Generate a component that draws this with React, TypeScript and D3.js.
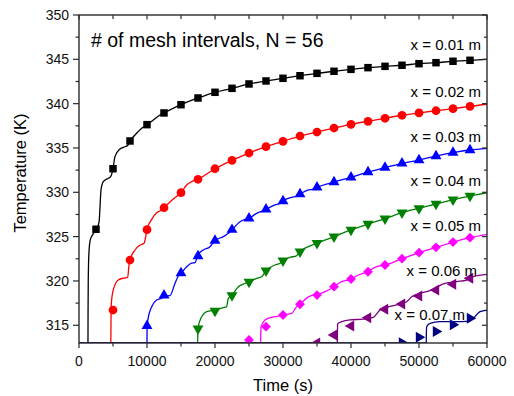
import React from "react";
import * as d3 from "d3";

const markerTimes = [2500, 5000, 7500, 10000, 12500, 15000, 17500, 20000, 22500, 25000, 27500, 30000, 32500, 35000, 37500, 40000, 42500, 45000, 47500, 50000, 52500, 55000, 57500];

const labels = ["x = 0.01 m", "x = 0.02 m", "x = 0.03 m", "x = 0.04 m", "x = 0.05 m", "x = 0.06 m", "x = 0.07 m"];

// marker values (start at the given marker index)
const m001 = [325.83, 332.66, 335.79, 337.63, 338.95, 339.88, 340.64, 341.28, 341.73, 342.22, 342.56, 342.86, 343.15, 343.42, 343.65, 343.87, 344.06, 344.21, 344.33, 344.51, 344.62, 344.78, 344.89];
const m002 = [316.72, 322.36, 325.78, 328.26, 329.96, 331.47, 332.66, 333.61, 334.43, 335.15, 335.75, 336.35, 336.8, 337.25, 337.67, 338.01, 338.35, 338.69, 338.95, 339.2, 339.43, 339.7];
const m003 = [314.95, 318.38, 320.9, 322.81, 324.54, 325.78, 327.07, 328.08, 329.02, 329.81, 330.56, 331.16, 331.69, 332.29, 332.78, 333.27, 333.64, 334.09, 334.47, 334.77];
const m004 = [314.62, 316.61, 318.38, 319.88, 321.16, 322.28, 323.3, 324.25, 325.0, 325.75, 326.42, 327.02, 327.7, 328.19, 328.68, 329.17, 329.58];
const m005 = [313.34, 314.84, 316.16, 317.37, 318.41, 319.35, 320.22, 321.04, 321.8, 322.51, 323.19, 323.79, 324.39, 324.88];
const m006 = [313.0, 313.9, 314.92, 315.86, 316.8, 317.4, 318.3, 318.98, 319.62, 320.3];
const m007 = [313.04, 313.65, 314.3, 315.06, 315.79];

// N = 56 solution curves: [time (s), temperature (K)]
const l001 = [[0, 313], [1320, 313], [1330, 316], [1360, 320], [1450, 323], [1650, 324.6], [2000, 325.2], [2500, 325.8], [2800, 326.2], [2985, 326.9], [3100, 328.5], [3235, 330.26], [3570, 331.2], [4310, 331.58], [4660, 331.76], [5000, 332.66], [5290, 334.02], [6030, 334.88], [6760, 335.14], [7200, 335.3], [7500, 335.79], [8240, 336.46], [9220, 337.22], [10000, 337.63], [10930, 338.16], [11910, 338.72], [12500, 338.95], [15000, 339.88], [17500, 340.64], [20000, 341.28], [22500, 341.73], [25000, 342.22], [27500, 342.56], [30000, 342.86], [32500, 343.15], [35000, 343.42], [37500, 343.65], [40000, 343.87], [42500, 344.06], [45000, 344.21], [47500, 344.33], [50000, 344.51], [52500, 344.62], [55000, 344.78], [57500, 344.89], [60000, 345.0]];
const l002 = [[0, 313], [4680, 313], [4700, 315], [4760, 317.5], [5040, 318.98], [5780, 320.1], [6620, 320.33], [7160, 320.4], [7350, 321.8], [7500, 322.36], [8240, 323.49], [8970, 324.05], [9560, 324.25], [9850, 325.18], [10000, 325.78], [10690, 326.95], [11420, 327.7], [11910, 327.89], [12500, 328.26], [13380, 328.9], [14120, 329.4], [15000, 329.96], [15830, 330.82], [16570, 331.2], [17500, 331.47], [20000, 332.66], [22500, 333.61], [25000, 334.43], [27500, 335.15], [30000, 335.75], [32500, 336.35], [35000, 336.8], [37500, 337.25], [40000, 337.67], [42500, 338.01], [45000, 338.35], [47500, 338.69], [50000, 338.95], [52500, 339.2], [55000, 339.43], [57500, 339.7], [60000, 339.93]];
const l003 = [[0, 313], [10000, 313], [10010, 314.5], [10100, 315.5], [10690, 317.1], [11420, 317.85], [12160, 318.04], [12500, 318.3], [13380, 318.35], [14120, 319.73], [14600, 320.56], [15000, 320.86], [15830, 321.6], [16570, 322.0], [17060, 322.06], [17500, 323.0], [18280, 323.49], [19260, 323.86], [20000, 324.54], [21220, 325.0], [21960, 325.37], [22500, 325.78], [23680, 326.68], [24410, 326.95], [25000, 327.07], [26130, 327.63], [27110, 327.92], [27500, 328.08], [28820, 328.57], [29560, 328.76], [30000, 329.02], [31280, 329.43], [32010, 329.58], [32500, 329.81], [33730, 330.26], [34460, 330.37], [35000, 330.56], [37500, 331.16], [40000, 331.69], [42500, 332.29], [45000, 332.78], [47500, 333.27], [50000, 333.64], [52500, 334.09], [55000, 334.47], [57500, 334.77], [60000, 334.96]];
const l004 = [[0, 313], [17450, 313], [17470, 314], [17500, 314.66], [18040, 315.97], [18770, 316.53], [20000, 316.72], [21220, 316.98], [21710, 317.1], [21960, 318.04], [22500, 318.38], [23430, 319.35], [24160, 319.65], [25000, 319.88], [26130, 320.3], [26860, 320.48], [27500, 321.16], [28820, 321.8], [29560, 321.99], [30000, 322.28], [31030, 322.67], [31910, 322.81], [32500, 323.3], [35000, 324.25], [37500, 325.0], [40000, 325.75], [42500, 326.42], [45000, 327.02], [47500, 327.7], [50000, 328.19], [52500, 328.68], [55000, 329.17], [57500, 329.58], [60000, 329.95]];
const l005 = [[0, 313], [26720, 313], [26730, 314], [26780, 314.84], [27350, 315.6], [28330, 315.9], [29560, 316.05], [30000, 316.16], [31280, 316.35], [32010, 317.1], [32500, 317.37], [33730, 318.2], [34460, 318.4], [35000, 318.45], [36180, 318.79], [36910, 319.06], [37500, 319.35], [38630, 319.92], [39600, 320.1], [40000, 320.22], [41080, 320.67], [41810, 320.86], [42500, 321.04], [43530, 321.54], [44260, 321.69], [45000, 321.8], [47500, 322.51], [50000, 323.19], [52500, 323.79], [55000, 324.39], [57500, 324.88], [60000, 325.26]];
const l006 = [[0, 313], [37990, 313], [38000, 314], [38050, 315.21], [38630, 315.4], [39850, 315.6], [41810, 315.7], [43280, 315.9], [44260, 316.72], [45250, 317.03], [46720, 317.29], [48190, 317.66], [48920, 318.22], [50150, 318.6], [51620, 318.9], [52600, 319.28], [53570, 319.66], [55540, 319.92], [57010, 320.1], [57990, 320.48], [60000, 320.75]];
const l007 = [[0, 313], [51070, 313], [51080, 314], [51130, 314.84], [51620, 315.22], [53090, 315.4], [55540, 315.4], [57010, 315.45], [57990, 315.79], [58970, 316.53], [60000, 316.72]];

const xTicks = [0, 10000, 20000, 30000, 40000, 50000, 60000];
const yTicks = [315, 320, 325, 330, 335, 340, 345, 350];

const series = [
  { label: labels[0], color: "#000000", shape: "square", start: 0, marks: m001, line: l001 },
  { label: labels[1], color: "#ff0000", shape: "circle", start: 1, marks: m002, line: l002 },
  { label: labels[2], color: "#0000ff", shape: "up", start: 3, marks: m003, line: l003 },
  { label: labels[3], color: "#008000", shape: "down", start: 6, marks: m004, line: l004 },
  { label: labels[4], color: "#ff00ff", shape: "diamond", start: 9, marks: m005, line: l005 },
  { label: labels[5], color: "#800080", shape: "left", start: 13, marks: m006, line: l006 },
  { label: labels[6], color: "#000080", shape: "right", start: 18, marks: m007, line: l007 },
];

// label layout: right edge x, baseline y
const labelPos = [
  [481, 50], [481, 96.5], [481, 141.5], [481, 185.5], [481, 231], [477, 276], [465, 320],
];

const FONT = "'Liberation Sans', Arial, Helvetica, sans-serif";
const W = 514, H = 396;
const L = 79, R = 487, T = 15, B = 343;

function symbolPath(shape: string) {
  switch (shape) {
    case "square": return { d: d3.symbol(d3.symbolSquare, 56)()!, rot: 0 };
    case "circle": return { d: d3.symbol(d3.symbolCircle, 60)()!, rot: 0 };
    case "up": return { d: d3.symbol(d3.symbolTriangle, 52)()!, rot: 0 };
    case "down": return { d: d3.symbol(d3.symbolTriangle, 52)()!, rot: 180 };
    case "diamond": return { d: d3.symbol(d3.symbolSquare, 48)()!, rot: 45 };
    case "left": return { d: d3.symbol(d3.symbolTriangle, 52)()!, rot: -90 };
    case "right": return { d: d3.symbol(d3.symbolTriangle, 52)()!, rot: 90 };
  }
  return { d: "", rot: 0 };
}

export default function App() {
  const x = d3.scaleLinear().domain([0, 60000]).range([L, R]);
  const y = d3.scaleLinear().domain([313, 350]).range([B, T]);
  const line = d3.line<number[]>().x(d => x(d[0])).y(d => y(d[1])).curve(d3.curveMonotoneX);

  const xMinor = d3.range(0, 60001, 5000);
  const yMinor = d3.range(315, 350.01, 2.5);
  const axisColor = "#2b2b2b";

  return (
    <svg width={W} height={H} style={{ position: "absolute", left: 0, top: 0, background: "#fff" }}>
      <defs>
        <clipPath id="plot">
          <rect x={L} y={T} width={R - L} height={B - T} />
        </clipPath>
      </defs>
      <rect x={0} y={0} width={W} height={H} fill="#fff" />
      <g clipPath="url(#plot)">
        {series.map((s, i) => (
          <path key={"l" + i} d={line(s.line) || ""} fill="none" stroke={s.color} strokeWidth={1.3} />
        ))}
        {series.map((s, i) => {
          const sp = symbolPath(s.shape);
          return (
            <g key={"m" + i} fill={s.color}>
              {s.marks.map((v, j) => (
                <path key={j} d={sp.d} transform={`translate(${x(markerTimes[s.start + j])},${y(v)}) rotate(${sp.rot})`} />
              ))}
            </g>
          );
        })}
      </g>
      {/* frame */}
      <rect x={L} y={T} width={R - L} height={B - T} fill="none" stroke={axisColor} strokeWidth={1.4} />
      {/* bottom & top ticks */}
      {xMinor.map((t, i) => {
        const major = t % 10000 === 0;
        return (
          <g key={"xt" + i} stroke={axisColor} strokeWidth={1.2}>
            <line x1={x(t)} x2={x(t)} y1={B} y2={B + (major ? 5 : 3.5)} />
            <line x1={x(t)} x2={x(t)} y1={T} y2={T + (major ? 4.5 : 4)} />
          </g>
        );
      })}
      {yMinor.map((v, i) => {
        const major = Math.abs(v % 5) < 1e-6;
        return (
          <g key={"yt" + i} stroke={axisColor} strokeWidth={1.2}>
            <line x1={L} x2={L - (major ? 6 : 3.5)} y1={y(v)} y2={y(v)} />
            <line x1={R} x2={R - (major ? 5 : 3)} y1={y(v)} y2={y(v)} />
          </g>
        );
      })}
      {xTicks.map((t, i) => (
        <text key={"xl" + i} x={x(t)} y={366} textAnchor="middle" fontFamily={FONT} fontSize={14} fill="#111">{t}</text>
      ))}
      {yTicks.map((v, i) => (
        <text key={"yl" + i} x={69} y={y(v) + 5} textAnchor="end" fontFamily={FONT} fontSize={14} fill="#111">{v}</text>
      ))}
      <text x={(L + R) / 2} y={391} textAnchor="middle" fontFamily={FONT} fontSize={16.5} fill="#000">Time (s)</text>
      <text transform={`translate(26,173) rotate(-90)`} textAnchor="middle" fontFamily={FONT} fontSize={16.5} fill="#000">Temperature (K)</text>
      <text x={91} y={47} fontFamily={FONT} fontSize={19.5} fill="#000"># of mesh intervals, N = 56</text>
      {series.map((s, i) => (
        <text key={"lab" + i} x={labelPos[i][0]} y={labelPos[i][1]} textAnchor="end" fontFamily={FONT} fontSize={15} fill="#000">{s.label}</text>
      ))}
    </svg>
  );
}
